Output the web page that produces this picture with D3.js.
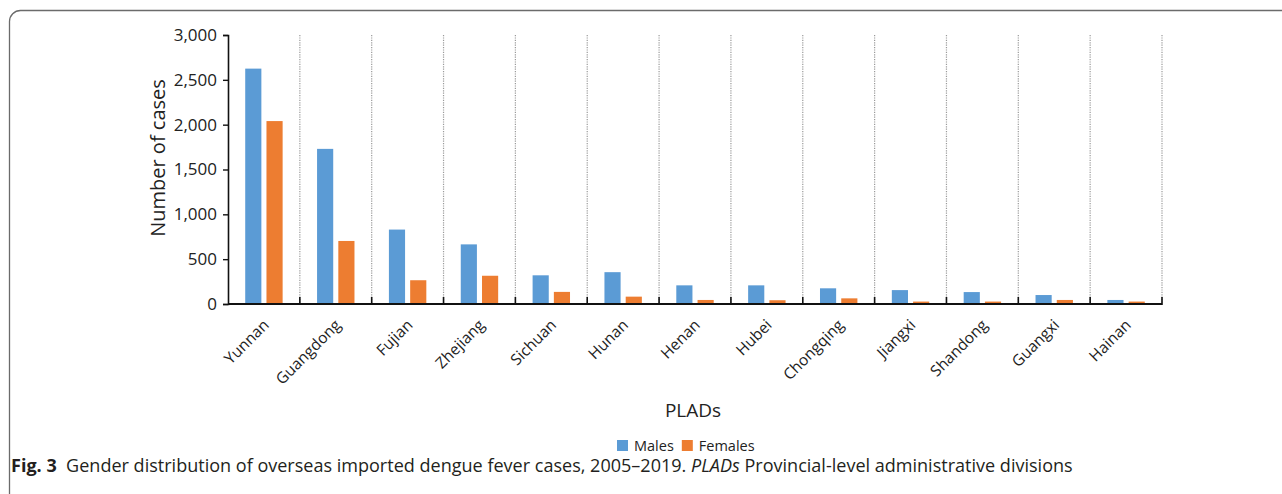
<!DOCTYPE html>
<html>
<head>
<meta charset="utf-8">
<script src="https://cdn.jsdelivr.net/npm/d3@7"></script>
<style>
  body { margin: 0; background: #fff; }
  text { font-family: "Open Sans", sans-serif; fill: #222; }
</style>
</head>
<body>
<div id="chart-area"></div>
<script>
// data
const provinces = ["Yunnan", "Guangdong", "Fujian", "Zhejiang", "Sichuan", "Hunan", "Henan",
  "Hubei", "Chongqing", "Jiangxi", "Shandong", "Guangxi", "Hainan"]
const males = [2625, 1730, 830, 665, 320, 355, 208, 208, 175, 155, 133, 100, 45]
const females = [2040, 703, 265, 315, 135, 82, 45, 42, 63, 27, 27, 45, 27]
const series = ["Males", "Females"]
const yTicks = [0, 500, 1000, 1500, 2000, 2500, 3000]

const COLORS = { Males: "#5B9BD5", Females: "#ED7D31" }

const W = 1282, H = 494
const PLOT = { LEFT: 228, RIGHT: 1162, TOP: 35, BOTTOM: 304 }

const svg = d3.select("#chart-area").append("svg")
  .attr("width", W)
  .attr("height", H)

// outer frame (rounded, runs off the right and bottom)
svg.append("rect")
  .attr("x", 9.5).attr("y", 10.5)
  .attr("width", W + 20).attr("height", H + 20)
  .attr("rx", 11)
  .attr("fill", "none")
  .attr("stroke", "#6b6b6b")
  .attr("stroke-width", 1.3)

// scales
const x0 = d3.scaleBand()
  .domain(provinces)
  .range([PLOT.LEFT, PLOT.RIGHT])
  .padding(0)

const x1 = d3.scaleBand()
  .domain(series)
  .range([0, x0.bandwidth()])
  .paddingInner(0.24)
  .paddingOuter(0.81)

const y = d3.scaleLinear()
  .domain([0, 3000])
  .range([PLOT.BOTTOM, PLOT.TOP])

const g = svg.append("g")

// dotted separators between categories
const bounds = provinces.map(p => x0(p) + x0.bandwidth())
g.selectAll(".sep").data(bounds).enter().append("line")
  .attr("class", "sep")
  .attr("x1", d => d).attr("x2", d => d)
  .attr("y1", PLOT.TOP).attr("y2", PLOT.BOTTOM)
  .attr("stroke", "#9a9a9a")
  .attr("stroke-width", 1.2)
  .attr("stroke-dasharray", "1.2,1.2")

// bars
const rows = provinces.map((p, i) => ({ province: p, Males: males[i], Females: females[i] }))

const groups = g.selectAll(".grp").data(rows).enter().append("g")
  .attr("class", "grp")
  .attr("transform", d => `translate(${x0(d.province)},0)`)

groups.selectAll("rect")
  .data(d => series.map(s => ({ key: s, value: d[s] })))
  .enter().append("rect")
  .attr("x", d => x1(d.key))
  .attr("width", x1.bandwidth())
  .attr("y", d => y(d.value))
  .attr("height", d => y(0) - y(d.value))
  .attr("fill", d => COLORS[d.key])

// y axis
const yAxis = d3.axisLeft(y)
  .tickValues(yTicks)
  .tickSize(5)
  .tickPadding(6)
  .tickFormat(d3.format(","))

const yG = svg.append("g")
  .attr("transform", `translate(${PLOT.LEFT},0)`)
  .call(yAxis)
yG.select(".domain").attr("stroke", "#111").attr("stroke-width", 1.6)
yG.selectAll(".tick line").attr("stroke", "#111").attr("stroke-width", 1.4)
yG.selectAll(".tick text")
  .attr("font-size", "17px")
  .attr("font-family", "Open Sans, sans-serif")
  .attr("fill", "#222")

// x axis: line, ticks at band edges, rotated labels
const xG = svg.append("g")
xG.append("line")
  .attr("x1", PLOT.LEFT).attr("x2", PLOT.RIGHT)
  .attr("y1", PLOT.BOTTOM).attr("y2", PLOT.BOTTOM)
  .attr("stroke", "#111").attr("stroke-width", 1.8)

xG.selectAll(".xtick").data(bounds).enter().append("line")
  .attr("class", "xtick")
  .attr("x1", d => d).attr("x2", d => d)
  .attr("y1", PLOT.BOTTOM - 7).attr("y2", PLOT.BOTTOM + 1)
  .attr("stroke", "#111").attr("stroke-width", 1.6)

xG.selectAll(".xlab").data(provinces).enter().append("text")
  .attr("class", "xlab")
  .attr("transform", d => `translate(${x0(d) + x0.bandwidth() / 2 + 6},${PLOT.BOTTOM + 22}) rotate(-45)`)
  .attr("text-anchor", "end")
  .attr("font-size", "15.5px")
  .text(d => d)

// axis titles
svg.append("text")
  .attr("transform", `translate(165,158) rotate(-90)`)
  .attr("text-anchor", "middle")
  .attr("font-size", "20px")
  .text("Number of cases")

svg.append("text")
  .attr("x", 693)
  .attr("y", 417)
  .attr("text-anchor", "middle")
  .attr("font-size", "19px")
  .text("PLADs")

// legend
const legend = svg.append("g").attr("transform", "translate(617,440)")
let lx = 0
series.forEach(s => {
  legend.append("rect")
    .attr("x", lx).attr("y", 0)
    .attr("width", 11).attr("height", 11)
    .attr("fill", COLORS[s])
  const t = legend.append("text")
    .attr("x", lx + 17).attr("y", 11)
    .attr("font-size", "14.5px")
    .text(s)
  lx += 17 + t.node().getComputedTextLength() + 8
})

// caption
const cap = svg.append("text")
  .attr("x", 11)
  .attr("y", 472)
  .attr("font-size", "15px")
  .style("fill", "#231f20")
cap.append("tspan").attr("font-weight", "bold").text("Fig. 3")
cap.append("tspan").text("\u00a0 Gender distribution of overseas imported dengue fever cases, 2005\u20132019. ")
cap.append("tspan").attr("font-style", "italic").text("PLADs")
cap.append("tspan").text(" Provincial-level administrative divisions")

// squeeze caption to the width in the figure
const capW = cap.node().getComputedTextLength()
const target = 1073 - 11
if (capW > 0) cap.attr("font-size", (15 * target / capW).toFixed(2) + "px")
</script>
</body>
</html>
